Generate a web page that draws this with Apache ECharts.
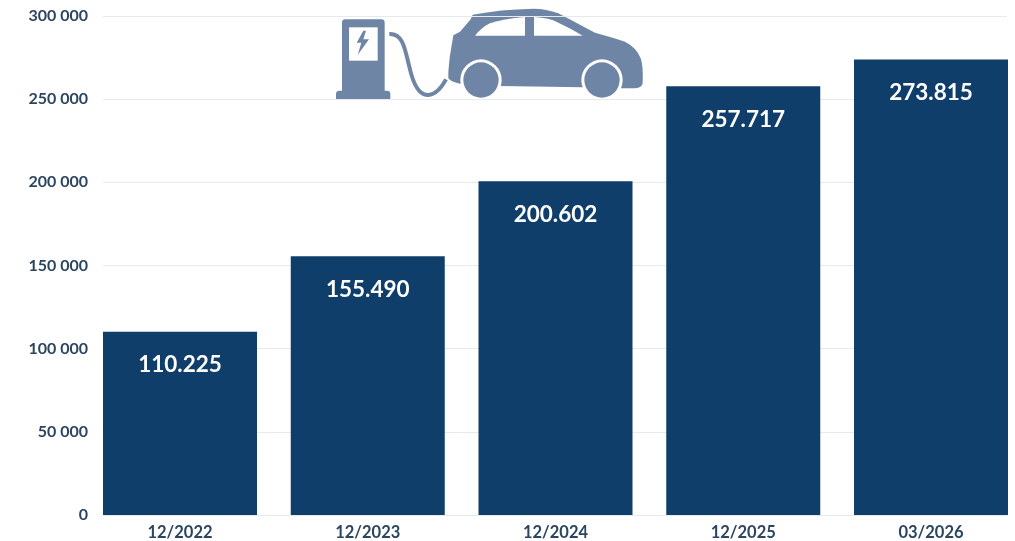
<!DOCTYPE html>
<html><head><meta charset="utf-8">
<style>html,body{margin:0;padding:0;background:#fff}#c{width:1015px;height:541px}</style>
<script src="https://cdn.jsdelivr.net/npm/echarts@6/dist/echarts.min.js"></script>
</head><body><div id="c"></div>
<script>
const categories = ['12/2022','12/2023','12/2024','12/2025','03/2026'];
const values = [110225,155490,200602,257717,273815];
const valueLabels = ['110.225','155.490','200.602','257.717','273.815'];
const ICON = '#6f85a5', NAVY = '#103e6b', TXT = '#2b4560', FONT = 'Lato, Carlito, "Open Sans", sans-serif';
const chart = echarts.init(document.getElementById('c'));
const iconSvg = `<svg xmlns="http://www.w3.org/2000/svg" width="1020" height="330" viewBox="0 0 1020 330">
<path fill="${ICON}" d="M48 297 L48 282 Q48 272 58 272 L66 272 L66 68 Q66 58 76 58 L184 58 Q194 58 194 68 L194 272 L201 272 Q211 272 211 282 L211 297 Z"/>
<rect x="87" y="82" width="86" height="100" fill="#fff"/>
<path fill="${ICON}" d="M130 92 L110 128 L124 128 L113 165 L147 118 L130 118 L138 92 Z"/>
<path fill="none" stroke="${ICON}" stroke-width="12" d="M208 102 C250 100 255 150 268 200 C280 255 300 287 325 285 C350 283 365 262 378 238"/>
<path fill="${ICON}" d="M385 215 Q388 170 396 130 L400 106 L420 95 L452 58 L458 44 Q540 28 640 26 Q680 26 715 40 L825 98 Q880 113 915 125 Q950 143 962 175 Q970 195 968 250 Q966 264 945 265 L905 265 L790 262 L540 258 L425 252 Q395 248 385 235 Z"/>
<path fill="#fff" d="M465 107 Q485 82 510 70 Q550 56 615 51 L615 107 Z"/>
<path fill="#fff" d="M642 107 L642 51 Q690 54 712 67 Q755 87 788 107 Z"/>
<circle cx="483" cy="240" r="62" fill="#fff"/><circle cx="846" cy="240" r="62" fill="#fff"/>
<circle cx="483" cy="240" r="53" fill="${ICON}"/><circle cx="846" cy="240" r="53" fill="${ICON}"/>
</svg>`;
chart.setOption({
  animation:false,
  backgroundColor:'#fff',
  grid:[
    {left:103,top:16,width:904,height:499},
    {left:180,top:16,width:751,height:499}
  ],
  xAxis:[
    {type:'category',gridIndex:0,show:false,data:categories},
    {type:'category',gridIndex:1,data:categories,boundaryGap:false,
      axisLine:{show:false},axisTick:{show:false},
      axisLabel:{color:TXT,fontFamily:FONT,fontWeight:'bold',fontSize:16.5,margin:9,showMinLabel:true,showMaxLabel:true}}
  ],
  yAxis:[
    {type:'value',gridIndex:0,min:0,max:300000,interval:50000,
      axisLine:{show:false},axisTick:{show:false},
      axisLabel:{color:TXT,fontFamily:FONT,fontWeight:'bold',fontSize:16,margin:15,
        formatter:v=>String(v).replace(/\B(?=(\d{3})+$)/g,' ')},
      splitLine:{lineStyle:{color:'#e6e9ed',width:1}}},
    {type:'value',gridIndex:1,min:0,max:300000,interval:50000,show:false,splitLine:{show:false}}
  ],
  series:[{
    type:'bar',xAxisIndex:1,yAxisIndex:1,data:values,barWidth:154,clip:false,
    itemStyle:{color:NAVY},
    label:{show:true,position:'insideTop',distance:22,color:'#fff',fontFamily:FONT,fontWeight:'bold',fontSize:22.5,
      formatter:p=>valueLabels[p.dataIndex]}
  }],
  graphic:[{type:'image',x:320,y:0,scaleX:1/3,scaleY:1/3,
    style:{image:'data:image/svg+xml;charset=utf-8,'+encodeURIComponent(iconSvg),x:0,y:0,width:1020,height:330}}]
});
</script></body></html>
